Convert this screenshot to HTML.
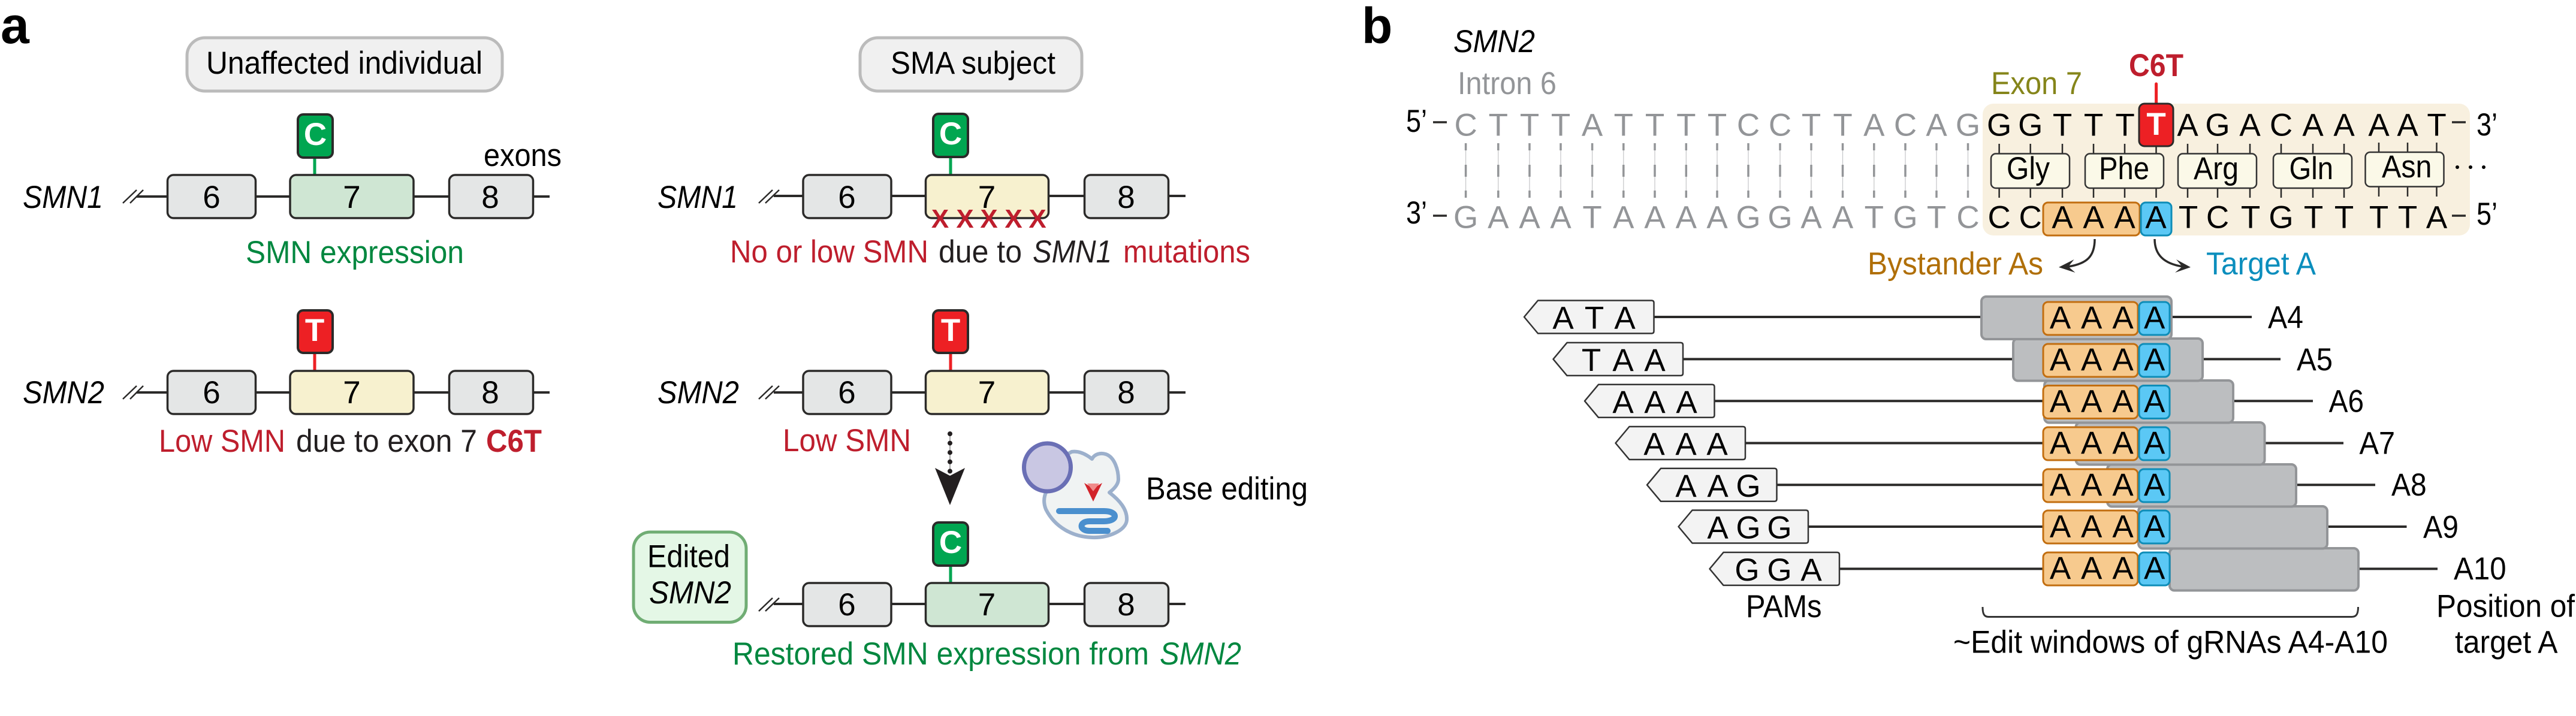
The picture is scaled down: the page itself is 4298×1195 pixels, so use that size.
<!DOCTYPE html>
<html><head><meta charset="utf-8"><style>
html,body{margin:0;padding:0;background:#fff}
svg{display:block}
text{font-family:"Liberation Sans",sans-serif;font-size:53px;fill:#000}
.m{text-anchor:middle}
.b{font-weight:bold}
.i{font-style:italic}
.red{fill:#be1e2d}
.grn{fill:#00873f}
.gry{fill:#939598}
.dk{fill:#231f20}
.wh{fill:#fff;font-weight:bold;text-anchor:middle}
.ex{stroke:#2b2a29;stroke-width:3.5}
.ln{stroke:#2b2a29;stroke-width:4;fill:none}
.sl{stroke:#2b2a29;stroke-width:2.5;fill:none}
.gr{fill:#e4e6e6}.lg{fill:#cfe6d3}.ly{fill:#f7f1cf}
.pg{fill:#00a651;stroke:#2b2a29;stroke-width:4}
.pr{fill:#ed2024;stroke:#2b2a29;stroke-width:4}
.aa{fill:#fbf9e8;stroke:#333;stroke-width:2.5}
.win{fill:#bcbec0;stroke:#939598;stroke-width:4}
.or{fill:#f7ca8e;stroke:#c26e10;stroke-width:3}
.bl{fill:#5bc8f5;stroke:#0e8db8;stroke-width:3}
</style></head><body>
<svg xmlns="http://www.w3.org/2000/svg" width="4298" height="1195" viewBox="0 0 4298 1195">
<rect width="4298" height="1195" fill="#fff"/>
<defs><path id="pam" d="M0 0L23 -27.5H212.5Q216.5 -27.5 216.5 -23.5V23.5Q216.5 27.5 212.5 27.5H23Z" fill="#f3f3f3" stroke="#333" stroke-width="2.5" stroke-linejoin="round"/></defs>

<!-- Panel a -->
<text x="1" y="72" class="b" style="font-size:86px">a</text>
<rect x="312" y="63" width="526" height="89" rx="30" fill="#f0f0f0" stroke="#bbb" stroke-width="5"/>
<text x="344" y="123" textLength="461" lengthAdjust="spacingAndGlyphs">Unaffected individual</text>
<rect x="1435" y="63" width="370" height="89" rx="30" fill="#f0f0f0" stroke="#bbb" stroke-width="5"/>
<text x="1486" y="123" textLength="275" lengthAdjust="spacingAndGlyphs">SMA subject</text>

<!-- left row 1 -->
<path class="ln" d="M228 328H917"/><path class="sl" d="M205 339L228 317M217 339L239 317"/>
<path d="M525 263V292" stroke="#00a651" stroke-width="5"/>
<rect class="pg" x="497" y="191" width="58" height="72" rx="9"/>
<text x="526" y="242" class="wh">C</text>
<rect class="ex gr" x="279.500" y="292" width="147" height="72" rx="10"/>
<rect class="ex lg" x="484" y="292" width="206" height="72" rx="10"/>
<rect class="ex gr" x="749.500" y="292" width="140" height="72" rx="10"/>
<text x="353" y="347" class="m">6</text><text x="587" y="347" class="m">7</text><text x="818" y="347" class="m">8</text>
<text x="38" y="347" class="i" textLength="134" lengthAdjust="spacingAndGlyphs">SMN1</text>
<text x="807" y="277" textLength="130" lengthAdjust="spacingAndGlyphs">exons</text>
<text x="410" y="439" class="grn" textLength="364" lengthAdjust="spacingAndGlyphs">SMN expression</text>

<!-- left row 2 -->
<path class="ln" d="M228 655H917"/><path class="sl" d="M205 666L228 644M217 666L239 644"/>
<path d="M525 589V619" stroke="#ed2024" stroke-width="5"/>
<rect class="pr" x="497" y="518" width="58" height="71" rx="9"/>
<text x="525" y="569" class="wh">T</text>
<rect class="ex gr" x="279.500" y="619" width="147" height="72" rx="10"/>
<rect class="ex ly" x="484" y="619" width="206" height="72" rx="10"/>
<rect class="ex gr" x="749.500" y="619" width="140" height="72" rx="10"/>
<text x="353" y="673" class="m">6</text><text x="587" y="673" class="m">7</text><text x="818" y="673" class="m">8</text>
<text x="38" y="673" class="i" textLength="136" lengthAdjust="spacingAndGlyphs">SMN2</text>
<text x="265" y="754" class="red" textLength="211" lengthAdjust="spacingAndGlyphs">Low SMN</text>
<text x="494" y="754" class="dk" textLength="302" lengthAdjust="spacingAndGlyphs">due to exon 7</text>
<text x="811" y="754" class="red b" textLength="93" lengthAdjust="spacingAndGlyphs">C6T</text>

<!-- right row 1 -->
<path class="ln" d="M1291 327H1978"/><path class="sl" d="M1266 339L1289 317M1277 339L1300 317"/>
<path d="M1586 262V292" stroke="#00a651" stroke-width="5"/>
<rect class="pg" x="1557" y="190" width="58" height="72" rx="9"/>
<text x="1586" y="241" class="wh">C</text>
<rect class="ex gr" x="1340" y="292" width="147" height="72" rx="10"/>
<rect class="ex ly" x="1544.500" y="292" width="205" height="72" rx="10"/>
<rect class="ex gr" x="1809.500" y="292" width="140" height="72" rx="10"/>
<text x="1413" y="347" class="m">6</text><text x="1646.500" y="347" class="m">7</text><text x="1879" y="347" class="m">8</text>
<text x="1568.500 1610 1650 1691 1731" y="380" class="m b red" style="font-size:44px">XXXXX</text>
<text x="1097" y="347" class="i" textLength="134" lengthAdjust="spacingAndGlyphs">SMN1</text>
<text x="1218" y="438" class="red" textLength="331" lengthAdjust="spacingAndGlyphs">No or low SMN</text>
<text x="1566" y="438" class="dk" textLength="139" lengthAdjust="spacingAndGlyphs">due to</text>
<text x="1723" y="438" class="dk i" textLength="132" lengthAdjust="spacingAndGlyphs">SMN1</text>
<text x="1874" y="438" class="red" textLength="212" lengthAdjust="spacingAndGlyphs">mutations</text>

<!-- right row 2 -->
<path class="ln" d="M1291 655H1978"/><path class="sl" d="M1266 666L1289 644M1277 666L1300 644"/>
<path d="M1586 589V619" stroke="#ed2024" stroke-width="5"/>
<rect class="pr" x="1557" y="518" width="58" height="71" rx="9"/>
<text x="1586" y="569" class="wh">T</text>
<rect class="ex gr" x="1340" y="619" width="147" height="72" rx="10"/>
<rect class="ex ly" x="1544.500" y="619" width="205" height="72" rx="10"/>
<rect class="ex gr" x="1809.500" y="619" width="140" height="72" rx="10"/>
<text x="1413" y="673" class="m">6</text><text x="1646.500" y="673" class="m">7</text><text x="1879" y="673" class="m">8</text>
<text x="1097" y="673" class="i" textLength="136" lengthAdjust="spacingAndGlyphs">SMN2</text>
<text x="1306" y="753" class="red" textLength="214" lengthAdjust="spacingAndGlyphs">Low SMN</text>

<!-- arrow -->
<path d="M1585 724V786" stroke="#888" stroke-width="1.500"/>
<path d="M1585 724V788" stroke="#231f20" stroke-width="8" stroke-linecap="round" stroke-dasharray="0 15.6"/>
<path d="M1560 781L1585 794L1610 781L1585 843Z" fill="#231f20"/>

<!-- enzyme -->
<path d="M1788 754C1800 752 1812 758 1822 766C1826 758 1836 755 1845 758C1860 763 1866 785 1866 800C1866 808 1860 815 1851 822C1868 835 1881 850 1880 868C1879 885 1850 898 1822 897C1790 896 1760 880 1745 850C1741 840 1741 830 1746 820L1760 770Z" fill="#f0f3f3" stroke="#9cb0cc" stroke-width="6" stroke-linejoin="round"/>
<ellipse cx="1747.500" cy="780" rx="39" ry="40" fill="#c9c7e3" stroke="#6a6fb5" stroke-width="7"/>
<path d="M1809 806L1824 815L1839 806L1824 837Z" fill="#d2232a"/>
<path d="M1814 807H1834L1824 820Z" fill="#f08a8a"/>
<path d="M1767 853H1842C1866 853 1866 870 1842 870H1818C1800 870 1800 886 1818 886H1848" fill="none" stroke="#4a8fce" stroke-width="10" stroke-linecap="round"/>
<text x="1912" y="833.500" textLength="270" lengthAdjust="spacingAndGlyphs">Base editing</text>

<!-- right row 3 -->
<rect x="1057" y="888" width="188" height="150.500" rx="28" fill="#e4f7e6" stroke="#70ad74" stroke-width="5"/>
<text x="1080" y="946.500" textLength="138" lengthAdjust="spacingAndGlyphs">Edited</text>
<text x="1083" y="1007" class="i" textLength="137" lengthAdjust="spacingAndGlyphs">SMN2</text>
<path class="ln" d="M1291 1008H1978"/><path class="sl" d="M1266 1020L1289 998M1277 1020L1300 998"/>
<path d="M1586 944V973" stroke="#00a651" stroke-width="5"/>
<rect class="pg" x="1557" y="872" width="58" height="72" rx="9"/>
<text x="1586" y="923" class="wh">C</text>
<rect class="ex gr" x="1340" y="973" width="147" height="72" rx="10"/>
<rect class="ex lg" x="1544.500" y="973" width="205" height="72" rx="10"/>
<rect class="ex gr" x="1809.500" y="973" width="140" height="72" rx="10"/>
<text x="1413" y="1027" class="m">6</text><text x="1646.500" y="1027" class="m">7</text><text x="1879" y="1027" class="m">8</text>
<text x="1222" y="1109" class="grn" textLength="695" lengthAdjust="spacingAndGlyphs">Restored SMN expression from</text>
<text x="1935" y="1109" class="grn i" textLength="136" lengthAdjust="spacingAndGlyphs">SMN2</text>

<!-- Panel b -->
<text x="2272" y="72" class="b" style="font-size:84px">b</text>
<text x="2425" y="87" class="i" textLength="136" lengthAdjust="spacingAndGlyphs">SMN2</text>
<text x="2432" y="157" class="gry" textLength="165" lengthAdjust="spacingAndGlyphs">Intron 6</text>
<text x="3322" y="157" style="fill:#85851a" textLength="152" lengthAdjust="spacingAndGlyphs">Exon 7</text>
<text x="3552" y="127" class="b red" textLength="91" lengthAdjust="spacingAndGlyphs">C6T</text>
<rect x="3308" y="173" width="813" height="220" rx="18" fill="#f8f0df"/>
<text x="2346" y="220" textLength="35" lengthAdjust="spacingAndGlyphs">5’</text><path d="M2391 204H2414" stroke="#2b2a29" stroke-width="3.500"/>
<text x="2346" y="373" textLength="35" lengthAdjust="spacingAndGlyphs">3’</text><path d="M2391 360H2414" stroke="#2b2a29" stroke-width="3.500"/>
<text x="4132" y="226" textLength="35" lengthAdjust="spacingAndGlyphs">3’</text><path d="M4091 204H4114" stroke="#2b2a29" stroke-width="3.500"/>
<text x="4132" y="375" textLength="35" lengthAdjust="spacingAndGlyphs">5’</text><path d="M4091 360H4114" stroke="#2b2a29" stroke-width="3.500"/>

<!-- base pair connectors -->
<path d="M2445.600 239V330M2499.800 239V330M2552 239V330M2604 239V330M2656.600 239V330M2708.800 239V330M2761 239V330M2813.300 239V330M2865 239V330M2917 239V330M2970 239V330M3022 239V330M3074.500 239V330M3126.800 239V330M3179 239V330M3231 239V330M3283.500 239V330" stroke="#c4c5c7" stroke-width="1.200"/>
<path d="M2445.600 239V330M2499.800 239V330M2552 239V330M2604 239V330M2656.600 239V330M2708.800 239V330M2761 239V330M2813.300 239V330M2865 239V330M2917 239V330M2970 239V330M3022 239V330M3074.500 239V330M3126.800 239V330M3179 239V330M3231 239V330M3283.500 239V330" stroke="#939598" stroke-width="3.500" stroke-dasharray="12 24 20 23 12"/>

<text class="m gry" y="226.700" x="2445.600 2499.800 2552 2604 2656.600 2708.800 2761 2813.300 2865 2917 2970 3022 3074.500 3126.800 3179 3231 3283.500">CTTTATTTTCCTTACAG</text>
<text class="m gry" y="380.700" x="2445.600 2499.800 2552 2604 2656.600 2708.800 2761 2813.300 2865 2917 2970 3022 3074.500 3126.800 3179 3231 3283.500">GAAATAAAAGGAATGTC</text>
<text class="m" y="226.700" x="3335.600 3387.700 3441 3493 3545.500 3650 3700 3754 3806 3859 3911 3969 4017 4065.500">GGTTTAGACAAAAT</text>

<!-- codon ticks -->
<path d="M3335.600 240V256M3387.700 240V256M3441 240V256M3493 240V256M3545 240V256M3597.500 240V256M3650 240V256M3700 240V256M3754 240V256M3806 240V256M3859 240V256M3911 240V256M3969 238V254M4017 238V254M4065.500 238V254M3335.600 314V330M3387.700 314V330M3441 314V330M3493 314V330M3545 314V330M3597.500 314V330M3650 314V330M3700 314V330M3754 314V330M3806 314V330M3859 314V330M3911 314V330M3969 312V328M4017 312V328M4065.500 312V328" stroke="#2b2a29" stroke-width="2.500"/>
<rect class="aa" x="3322" y="256.500" width="131" height="57.500" rx="8"/>
<rect class="aa" x="3479" y="256.500" width="131" height="57.500" rx="8"/>
<rect class="aa" x="3634" y="256.500" width="131" height="57.500" rx="8"/>
<rect class="aa" x="3793" y="256.500" width="131" height="57.500" rx="8"/>
<rect class="aa" x="3946.500" y="254" width="131" height="57.500" rx="8"/>
<text x="3348" y="299" textLength="72" lengthAdjust="spacingAndGlyphs">Gly</text>
<text x="3502" y="299" textLength="84" lengthAdjust="spacingAndGlyphs">Phe</text>
<text x="3660" y="299" textLength="75" lengthAdjust="spacingAndGlyphs">Arg</text>
<text x="3819.500" y="299" textLength="73.500" lengthAdjust="spacingAndGlyphs">Gln</text>
<text x="3974" y="296" textLength="83.500" lengthAdjust="spacingAndGlyphs">Asn</text>
<circle cx="4100" cy="279" r="3"/><circle cx="4122" cy="279" r="3"/><circle cx="4144" cy="279" r="3"/>

<!-- C6T pill -->
<path d="M3597.600 140V173" stroke="#ed2024" stroke-width="5" stroke-linecap="round"/>
<rect x="3569" y="173" width="57" height="71" rx="9" fill="#ed2024" stroke="#2b2a29" stroke-width="3"/>
<text x="3597.500" y="225" class="wh">T</text>

<!-- bottom strand highlight -->
<rect class="or" x="3409" y="338" width="161" height="55" rx="8"/>
<rect class="bl" x="3572" y="338" width="51" height="55" rx="8"/>
<text class="m" y="380.700" x="3335.600 3387.700 3441 3493 3545 3597 3651 3700 3755 3806 3860 3911 3969 4017 4065.500">CCAAAATCTGTTTTA</text>

<!-- curved arrows -->
<path d="M3495 399C3495 428 3482 440 3451 445" fill="none" stroke="#2b2a29" stroke-width="3.500"/>
<path d="M3435 446L3460.500 433L3451 445L3462.500 455Z" fill="#2b2a29"/>
<path d="M3595 399C3595 425 3610 440 3642 445" fill="none" stroke="#2b2a29" stroke-width="3.500"/>
<path d="M3655 446L3631 433L3641 445L3629 455Z" fill="#2b2a29"/>
<text x="3116" y="458" style="fill:#b06f08" textLength="293" lengthAdjust="spacingAndGlyphs">Bystander As</text>
<text x="3681" y="458" style="fill:#0b8ebd" textLength="183" lengthAdjust="spacingAndGlyphs">Target A</text>

<!-- gRNA rows: connectors -->
<path class="ln" d="M2759.500 529H3757M2808 599.400H3805M2860.500 669.300H3859M2912 739.500H3910M2964.400 809.300H3963M3017 879H4015.500M3069 949.400H4067"/>

<!-- PAMs -->
<use href="#pam" x="2543" y="529"/>
<use href="#pam" x="2591.500" y="599.400"/>
<use href="#pam" x="2644" y="669.300"/>
<use href="#pam" x="2695.500" y="739.500"/>
<use href="#pam" x="2748" y="809.300"/>
<use href="#pam" x="2800.500" y="879"/>
<use href="#pam" x="2852.500" y="949.400"/>
<text class="m" y="548.500" x="2608 2660 2711">ATA</text>
<text class="m" y="619" x="2655 2708 2761">TAA</text>
<text class="m" y="689" x="2708 2761 2814">AAA</text>
<text class="m" y="759" x="2760 2813 2865">AAA</text>
<text class="m" y="829" x="2813 2866 2917">AAG</text>
<text class="m" y="898.500" x="2866 2917 2969">AGG</text>
<text class="m" y="969" x="2915 2969 3022">GGA</text>
<text x="2913" y="1030" textLength="126.500" lengthAdjust="spacingAndGlyphs">PAMs</text>

<!-- windows -->
<rect class="win" x="3620" y="915" width="315" height="70.500" rx="8"/>
<rect class="win" x="3568" y="845" width="315" height="70.500" rx="8"/>
<rect class="win" x="3516" y="775" width="315" height="70.500" rx="8"/>
<rect class="win" x="3463.500" y="705" width="315" height="70.500" rx="8"/>
<rect class="win" x="3411" y="635" width="315" height="70.500" rx="8"/>
<rect class="win" x="3359" y="565" width="316" height="70.500" rx="8"/>
<rect class="win" x="3306" y="495" width="317" height="71" rx="8"/>

<!-- AAAA boxes -->
<rect class="or" x="3409" y="504" width="158" height="55" rx="8"/><rect class="bl" x="3569" y="504" width="51" height="55" rx="8"/>
<rect class="or" x="3409" y="574" width="158" height="55" rx="8"/><rect class="bl" x="3569" y="574" width="51" height="55" rx="8"/>
<rect class="or" x="3409" y="643.500" width="158" height="55" rx="8"/><rect class="bl" x="3569" y="643.500" width="51" height="55" rx="8"/>
<rect class="or" x="3409" y="713" width="158" height="55" rx="8"/><rect class="bl" x="3569" y="713" width="51" height="55" rx="8"/>
<rect class="or" x="3409" y="783" width="158" height="55" rx="8"/><rect class="bl" x="3569" y="783" width="51" height="55" rx="8"/>
<rect class="or" x="3409" y="852" width="158" height="55" rx="8"/><rect class="bl" x="3569" y="852" width="51" height="55" rx="8"/>
<rect class="or" x="3409" y="922" width="158" height="55" rx="8"/><rect class="bl" x="3569" y="922" width="51" height="55" rx="8"/>
<text class="m" y="548" x="3437.500 3489.700 3542 3594.700">AAAA</text>
<text class="m" y="618" x="3437.500 3489.700 3542 3594.700">AAAA</text>
<text class="m" y="687.500" x="3437.500 3489.700 3542 3594.700">AAAA</text>
<text class="m" y="757" x="3437.500 3489.700 3542 3594.700">AAAA</text>
<text class="m" y="827" x="3437.500 3489.700 3542 3594.700">AAAA</text>
<text class="m" y="896.500" x="3437.500 3489.700 3542 3594.700">AAAA</text>
<text class="m" y="966" x="3437.500 3489.700 3542 3594.700">AAAA</text>

<text x="3784" y="547.700" textLength="59" lengthAdjust="spacingAndGlyphs">A4</text>
<text x="3832" y="618" textLength="60" lengthAdjust="spacingAndGlyphs">A5</text>
<text x="3885.600" y="687.300" textLength="58.400" lengthAdjust="spacingAndGlyphs">A6</text>
<text x="3936.500" y="757.600" textLength="59.500" lengthAdjust="spacingAndGlyphs">A7</text>
<text x="3990" y="827" textLength="58.600" lengthAdjust="spacingAndGlyphs">A8</text>
<text x="4043" y="897.600" textLength="59" lengthAdjust="spacingAndGlyphs">A9</text>
<text x="4094" y="967" textLength="87.600" lengthAdjust="spacingAndGlyphs">A10</text>

<!-- bracket -->
<path d="M3308 1013C3308 1024 3310 1029.500 3318 1029.500H3924C3932 1029.500 3934.500 1024 3934.500 1013" fill="none" stroke="#333" stroke-width="3"/>
<text x="3259" y="1089.500" textLength="725" lengthAdjust="spacingAndGlyphs">~Edit windows of gRNAs A4-A10</text>
<text x="4065" y="1029.400" textLength="231" lengthAdjust="spacingAndGlyphs">Position of</text>
<text x="4096" y="1089.500" textLength="171.500" lengthAdjust="spacingAndGlyphs">target A</text>
</svg>
</body></html>
